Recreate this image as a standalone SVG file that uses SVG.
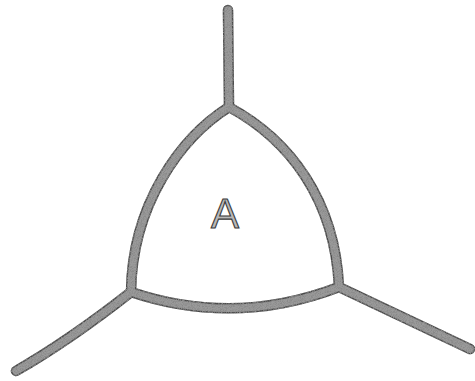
<svg xmlns="http://www.w3.org/2000/svg" width="475" height="381" viewBox="0 0 475 381">
  <defs>
    <filter id="grain" x="-5%" y="-5%" width="110%" height="110%">
      <feTurbulence type="fractalNoise" baseFrequency="1.2" numOctaves="2" seed="3" result="n"/>
      <feColorMatrix in="n" type="matrix" values="0 0 0 0 0.25  0 0 0 0 0.25  0 0 0 0 0.25  0 0 0 3 -1.2" result="dots"/>
      <feComposite in="dots" in2="SourceAlpha" operator="in" result="d"/>
      <feMerge><feMergeNode in="SourceGraphic"/><feMergeNode in="d"/></feMerge>
    </filter>
  </defs>
  <style>
    .edge { fill: none; stroke: #4a4a4a; stroke-width: 10.5; stroke-linecap: round; stroke-linejoin: round; }
    .core { fill: none; stroke: #9a9a9a; stroke-width: 7.5; stroke-linecap: round; stroke-linejoin: round; }
    .label { font-family: "Liberation Sans", Arial, sans-serif; font-size: 42px; fill: #b8b8b8; stroke: #3a3a3a; stroke-width: 1.1; text-anchor: middle; }
  </style>
  <rect width="475" height="381" fill="#ffffff"/>
  <g id="connectors" filter="url(#grain)">
    <g class="edge">
      <path d="M229,107 C180,138 132,205 131,292"/>
      <path d="M229,107 C290,140 335,200 339,287"/>
      <path d="M131,292 Q235,327 339,287"/>
      <path d="M229,107 L228,10"/>
      <path d="M131,292 Q70,340 16,371"/>
      <path d="M339,287 L470,349"/>
    </g>
    <g class="core">
      <path d="M229,107 C180,138 132,205 131,292"/>
      <path d="M229,107 C290,140 335,200 339,287"/>
      <path d="M131,292 Q235,327 339,287"/>
      <path d="M229,107 L228,10"/>
      <path d="M131,292 Q70,340 16,371"/>
      <path d="M339,287 L470,349"/>
    </g>
  </g>
  <g id="regionA">
    <text class="label" x="225" y="228">A</text>
  </g>
</svg>
